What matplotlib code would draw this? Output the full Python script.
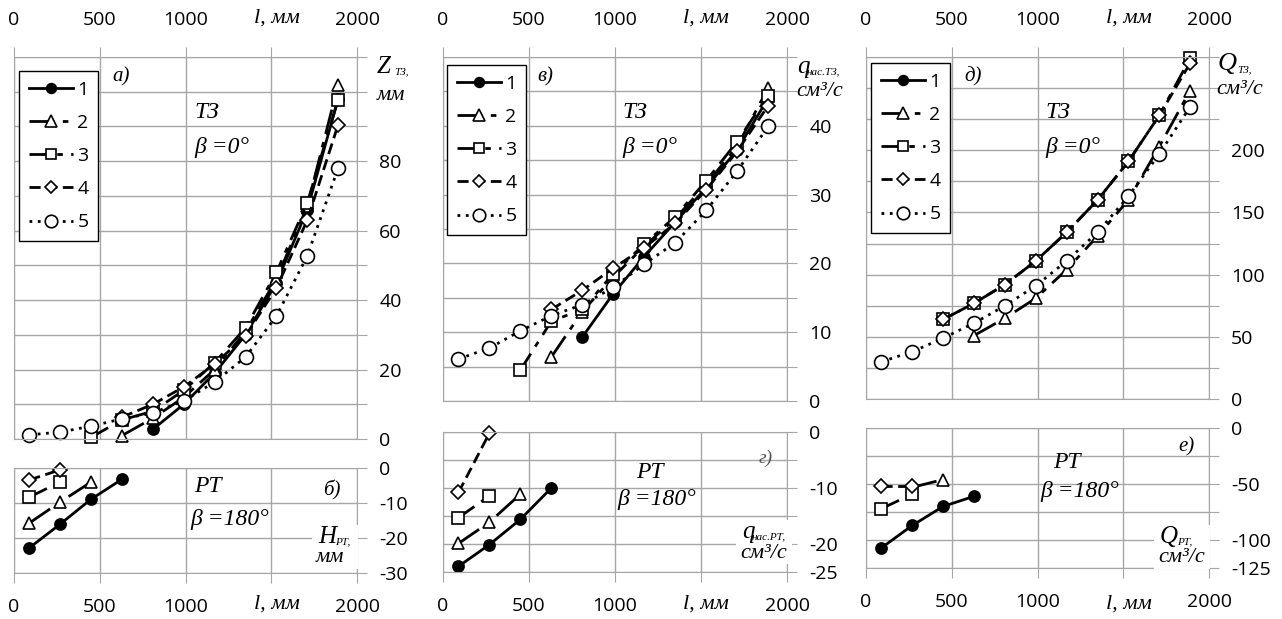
import matplotlib.pyplot as plt
from matplotlib.patches import Rectangle
import numpy as np

plt.rcParams['font.family'] = ['Open Sans', 'DejaVu Sans']

# lengths l, мм
L = [90, 270, 450, 630, 810, 990, 1170, 1350, 1530, 1710, 1890]

# а) Z_ТЗ, мм  (series end at 1890)
z1 = [2.8, 10, 19, 30, 45, 66, 98]
z2 = [1, 6, 12, 20, 31, 46, 67, 102]
z3 = [0.5, 5.5, 8, 14, 22, 32, 48, 68, 97.7]
z4 = [6.3, 10, 15, 21.6, 29.7, 43.5, 63, 90.5]
z5 = [1.2, 2, 3.7, 5.8, 7.5, 11, 16.4, 23.6, 35.4, 52.7, 78]

# б) H_РТ, мм
h1_l, h1 = [90, 270, 450, 630], [-22.8, -16, -8.9, -3.2]
h2_l, h2 = [90, 270, 450], [-15.7, -9.7, -4]
h3_l, h3 = [90, 270], [-8.3, -4]
h4_l, h4 = [90, 270], [-3.4, -0.5]

# в) q_нас.ТЗ, см3/с
q1 = [9.3, 15.6, 21, 26, 31, 36.5, 44]
q2 = [6.4, 13, 18, 22.5, 26.5, 31.5, 37, 45.5]
q3 = [4.5, 11.6, 13.3, 18.5, 22.8, 26.8, 32, 37.7, 44.4]
q4 = [13.3, 16.1, 19.3, 22.3, 25.8, 30.7, 36.3, 42.9]
q5 = [6.1, 7.7, 10.2, 12.4, 14, 16.5, 19.9, 23, 27.7, 33.4, 39.9]

# г) q_нас.РТ, см3/с
g1_l, g1 = [90, 270, 450, 630], [-24, -20.1, -15.6, -10]
g2_l, g2 = [90, 270, 450], [-19.9, -16.1, -11.1]
g3_l, g3 = [90, 270], [-15.3, -11.4]
g4_l, g4 = [90, 270], [-10.8, -0.2]

# д) Q_ТЗ, см3/с
Q1 = []
Q2 = [51, 65, 81, 104, 131, 160, 203, 248]
Q3 = [64, 77, 92, 111, 134, 160, 191, 228, 274]
Q4 = [64, 77, 92, 111, 134, 160, 191, 228, 270]
Q5 = [30, 38, 49, 61, 75, 91, 111, 134, 163, 197, 235]

# е) Q_РТ, см3/с
e1_l, e1 = [90, 270, 450, 630], [-107, -87, -70, -61]
e2_l, e2 = [270, 450], [-53, -46]
e3_l, e3 = [90, 270], [-72, -59]
e4_l, e4 = [90, 270], [-52, -52]

names = ['1', '2', '3', '4', '5']
styles = [
    dict(ls='-', marker='o', mfc='black', ms=8),
    dict(ls=(0, (9, 3, 2, 3)), marker='^', mfc='white', ms=9),
    dict(ls=(0, (7, 3, 2, 3)), marker='s', mfc='white', ms=8),
    dict(ls=(0, (4, 2)), marker='D', mfc='white', ms=7),
    dict(ls=(0, (1, 2)), marker='o', mfc='white', ms=10),
]

W, H = 1282, 619
fig = plt.figure(figsize=(W / 100, H / 100), dpi=100)
GRID = '#a6a6a6'
SERIF = 'Liberation Serif'


def rect(x0, x1, y0, y1):
    return [x0 / W, 1 - y1 / H, (x1 - x0) / W, (y1 - y0) / H]


def ftext(x, y, s, **kw):
    kw.setdefault('family', SERIF)
    kw.setdefault('style', 'italic')
    kw.setdefault('fontsize', 16)
    kw.setdefault('va', 'center')
    fig.text(x / W, 1 - y / H, s, **kw)


def whitebox(x0, x1, y0, y1):
    r = rect(x0, x1, y0, y1)
    fig.patches.append(Rectangle((r[0], r[1]), r[2], r[3], facecolor='white',
                                 edgecolor='none', transform=fig.transFigure,
                                 figure=fig, zorder=5))


def setup(ax, ymin, ymax, step, labeled, top):
    ax.set_xlim(0, 2000)
    ax.set_ylim(ymin, ymax)
    ax.set_xticks([0, 500, 1000, 1500, 2000])
    ax.set_xticklabels(['0', '500', '1000', '', '2000'])
    ticks = np.arange(ymin, ymax + step / 2, step)
    ax.set_yticks(ticks)
    ax.set_yticklabels([('%d' % t) if t in labeled else '' for t in ticks])
    ax.grid(True, color=GRID, lw=1)
    ax.set_axisbelow(True)
    for s in ax.spines.values():
        s.set_color(GRID)
    ax.yaxis.tick_right()
    ax.tick_params(axis='y', direction='out', length=7, color=GRID,
                   labelsize=14, pad=9)
    if top:
        ax.xaxis.tick_top()
        ax.tick_params(axis='x', direction='out', length=7, color=GRID,
                       labelsize=14, pad=13)
    else:
        ax.tick_params(axis='x', direction='out', length=7, color=GRID,
                       labelsize=14, pad=11)


def draw_top(ax, series):
    for i, y in enumerate(series):
        st = styles[i]
        ax.plot(L[len(L) - len(y):], y, color='black', lw=2, ls=st['ls'],
                marker=st['marker'], mfc=st['mfc'], mec='black', mew=1.2,
                ms=st['ms'], label=names[i], clip_on=False)


def draw_bottom(ax, series):
    for i, (x, y) in enumerate(series):
        st = styles[i]
        ax.plot(x, y, color='black', lw=2, ls=st['ls'],
                marker=st['marker'], mfc=st['mfc'], mec='black', mew=1.2,
                ms=st['ms'], clip_on=False)


def legend(ax, x0, y0, axr):
    handles = [plt.Line2D([], [], color='black', lw=2, ls=st['ls'],
                          marker=st['marker'], mfc=st['mfc'], mec='black',
                          mew=1.2, ms=st['ms'] - 1) for st in styles]
    left, top, w, h = axr
    leg = ax.legend(handles, names, loc='upper left',
                    bbox_to_anchor=((x0 - left) / w, 1 - (y0 - top) / h),
                    borderaxespad=0, fontsize=14, handlelength=2.3,
                    labelspacing=0.78, handletextpad=0.2, borderpad=0.5,
                    fancybox=False, framealpha=1, edgecolor='black')
    leg.get_frame().set_linewidth(1)


# column 1
ax = fig.add_axes(rect(14, 357, 57, 439))
setup(ax, 0, 110, 10, [0, 20, 40, 60, 80], True)
draw_top(ax, [z1, z2, z3, z4, z5])
legend(ax, 19, 71, (14, 57, 343, 382))
ax = fig.add_axes(rect(14, 357, 468, 573))
setup(ax, -30, 0, 10, [0, -10, -20, -30], False)
draw_bottom(ax, [(h1_l, h1), (h2_l, h2), (h3_l, h3), (h4_l, h4)])

# column 2
ax = fig.add_axes(rect(443, 787, 57, 401))
setup(ax, 0, 50, 5, [0, 10, 20, 30, 40], True)
draw_top(ax, [q1, q2, q3, q4, q5])
legend(ax, 447, 65, (443, 57, 344, 344))
ax = fig.add_axes(rect(443, 787, 432, 572))
setup(ax, -25, 0, 5, [0, -10, -20, -25], False)
draw_bottom(ax, [(g1_l, g1), (g2_l, g2), (g3_l, g3), (g4_l, g4)])

# column 3
ax = fig.add_axes(rect(866, 1209, 57, 399))
setup(ax, 0, 275, 25, [0, 50, 100, 150, 200], True)
draw_top(ax, [Q1, Q2, Q3, Q4, Q5])
legend(ax, 871, 63, (866, 57, 343, 342))
ax = fig.add_axes(rect(866, 1209, 428, 568))
setup(ax, -125, 0, 25, [0, -50, -100, -125], False)
draw_bottom(ax, [(e1_l, e1), (e2_l, e2), (e3_l, e3), (e4_l, e4)])

# axis titles "l, мм"
for x0 in (14, 443, 866):
    ftext(x0 + 263, 18, 'l, мм', ha='center', fontsize=16)
    ftext(x0 + 263, 604, 'l, мм', ha='center', fontsize=16)

# panel letters and regimes
ftext(112, 77, 'а)', fontsize=15)
ftext(537, 77, 'в)', fontsize=15)
ftext(964, 77, 'д)', fontsize=15)
ftext(323, 490, 'б)', fontsize=15)
ftext(759, 458, 'г)', fontsize=14, color='#555555')
ftext(1178, 447, 'е)', fontsize=15)

for x0 in (194, 622, 1045):
    ftext(x0, 113, 'ТЗ', fontsize=17)
    ftext(x0, 147, 'β =0°', fontsize=17)
ftext(194, 487, 'РТ', fontsize=17)
ftext(190, 520, 'β =180°', fontsize=17)
ftext(636, 473, 'РТ', fontsize=17)
ftext(617, 500, 'β =180°', fontsize=17)
ftext(1053, 463, 'РТ', fontsize=17)
ftext(1040, 492, 'β =180°', fontsize=17)

# unit labels, top panels
ftext(377, 67, 'Z', fontsize=18)
ftext(394, 72, 'ТЗ,', fontsize=8)
ftext(377, 95, 'мм', fontsize=16)
ftext(797, 67, 'q', fontsize=18)
ftext(807, 72, 'нас.ТЗ,', fontsize=8)
ftext(796, 92, 'см³/с', fontsize=16)
ftext(1218, 64, 'Q', fontsize=19)
ftext(1237, 70, 'ТЗ,', fontsize=8)
ftext(1216, 89, 'см³/с', fontsize=16)

# unit labels, bottom panels (on white patches hiding the grid)
for xq, yq, big, sub, unit in ((318, 537, 'H', 'РТ,', 'мм'),
                               (742, 532, 'q', 'нас.РТ,', 'см³/с'),
                               (1160, 537, 'Q', 'РТ,', 'см³/с')):
    whitebox(xq - 6, xq + 40 if big == 'H' else xq + 50, yq - 12, yq + 32)
    ftext(xq, yq, big, fontsize=18, zorder=6)
    ftext(xq + (10 if big == 'q' else 17), yq + 5, sub, fontsize=8, zorder=6)
    ftext(xq - 2, yq + 21, unit, fontsize=16, zorder=6)

fig.savefig('out.png', dpi=100)
